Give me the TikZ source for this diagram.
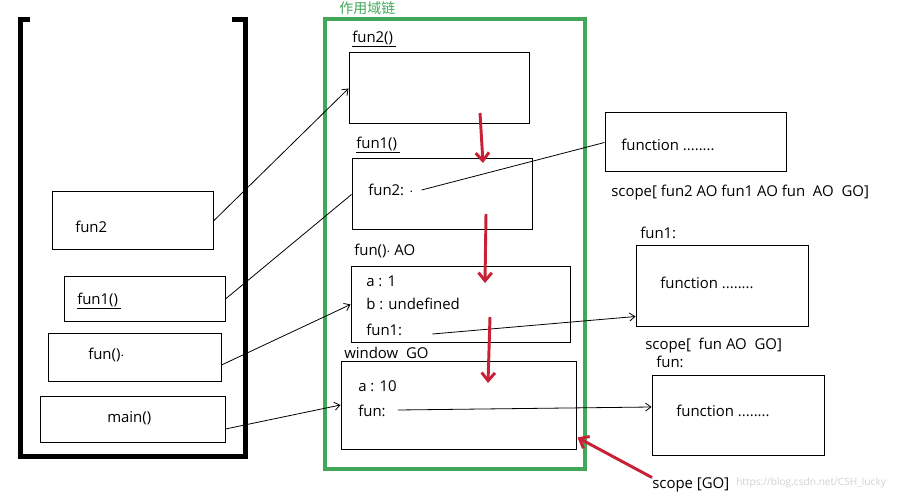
\documentclass[tikz,border=0pt]{standalone}
\usepackage{fontspec}
\setmainfont{Open Sans}
\newfontfamily\cjkfont{Noto Sans CJK SC}
\usetikzlibrary{arrows.meta, fit, calc}
\definecolor{chaingreen}{RGB}{64,168,88}
\definecolor{scopered}{RGB}{200,32,52}
\tikzset{
  frame/.style={draw, line width=0.75pt, inner sep=0pt},
  lbl/.style={anchor=west, inner sep=0pt, font=\fontsize{11.2}{13}\selectfont},
  link/.style={line width=0.6pt},
  tip/.style={-{Straight Barb[length=4pt,width=6pt]}},
  redarrow/.style={draw=scopered, line width=2.2pt, -{Straight Barb[length=6pt,width=10pt]}}
}
\begin{document}
\begin{tikzpicture}[x=0.75pt, y=-0.75pt]
  \useasboundingbox (0,0) rectangle (904,499);
  % call stack
  \draw[line width=3.75pt] (30,20) -- (20,20) -- (20,456) -- (245,456) -- (245,20) -- (232,20);
  \node[frame, fit={(52,192) (213,250)}] (s2) {};
  \node[frame, fit={(64,277) (225,321)}] (s1) {};
  \node[frame, fit={(48,333) (221,381)}] (s0) {};
  \node[frame, fit={(40,396) (225,442)}] (sm) {};
  \node[lbl] (ts2) at (75,227) {fun2};
  \node[lbl] (ts1) at (77,301) {\underline{fun1()\,}};
  \node[lbl] (ts0) at (88,355) {fun()$\cdot$};
  \node[lbl] (tsm) at (107,418) {main()};
  % scope chain
  \draw[chaingreen, line width=2.6pt] (325,19) rectangle (585,469);
  \node[lbl, text=chaingreen, font=\cjkfont\fontsize{10.5}{12}\selectfont] (chain) at (339,8) {作用域链};
  \node[frame, fit={(349,53) (529,124)}] (g2) {};
  \node[frame, fit={(352,159) (532,230)}] (g1) {};
  \node[frame, fit={(351,267) (570,342)}] (ao) {};
  \node[frame, fit={(341,361) (576,449)}] (go) {};
  \node[lbl] (tg2) at (352,39) {\underline{fun2()\,}};
  \node[lbl] (tg1) at (356,145) {\underline{fun1()\,}};
  \node[lbl] (tf2) at (368,190) {fun2: $\cdot$};
  \node[lbl] (tao) at (354,251) {fun()$\cdot$ AO};
  \node[lbl] (ta1) at (366,281) {a : 1};
  \node[lbl] (tb) at (366,304) {b : undefined};
  \node[lbl] (tf1) at (366,330) {fun1:};
  \node[lbl] (tgo) at (344,353) {window\ \ GO};
  \node[lbl] (ta10) at (358,386) {a : 10};
  \node[lbl] (tf) at (358,411) {fun:};
  % function objects
  \node[frame, fit={(605,113) (786,172)}] (fa) {};
  \node[frame, fit={(636,246) (808,326)}] (fb) {};
  \node[frame, fit={(652,375) (824,455)}] (fc) {};
  \node[lbl] (tfa) at (621,145) {function ........};
  \node[lbl] (tfb) at (660,283) {function ........};
  \node[lbl] (tfc) at (676,411) {function ........};
  \node[lbl] (sca) at (611,193) {scope[ fun2 AO fun1 AO fun\ \ AO\ \ GO]};
  \node[lbl] (nb) at (640,233) {fun1:};
  \node[lbl] (scb) at (645,346) {scope[\ \ fun AO\ \ GO]};
  \node[lbl] (nc) at (656,362) {fun:};
  \node[lbl] (sg) at (652,485) {scope [GO]};
  \node[lbl, text=black!18, font=\fontsize{7.6}{9}\selectfont] (wm) at (736,483) {https://blog.csdn.net/CSH\_lucky};
  % stack to scope objects
  \draw[link, tip] (s2.east) -- (g2.west);
  \draw[link] (s1.east) -- (g1.west);
  \draw[link, tip] ($(s0.east)+(0,8)$) -- (ao.west);
  \draw[link, tip] ($(sm.east)+(0,10)$) -- (go.west);
  % names to functions
  \draw[link] ($(tf2.east)+(8,0)$) -- (fa.west);
  \draw[link, tip] ($(tf1.east)+(30,4)$) -- ($(fb.south west)+(0,-10)$);
  \draw[link, tip] ($(tf.east)+(12,-1)$) -- ($(fc.west)+(0,-8)$);
  % lookup order
  \foreach \xa/\ya/\xb/\yb in {480/113/483/163, 486/214/485/283, 490/317/488/383}{
    \draw[redarrow] (\xa,\ya) -- (\xb,\yb);
  }
  \draw[redarrow] (sg.north west) -- ($(go.south east)+(1,-12)$);
\end{tikzpicture}
\end{document}
